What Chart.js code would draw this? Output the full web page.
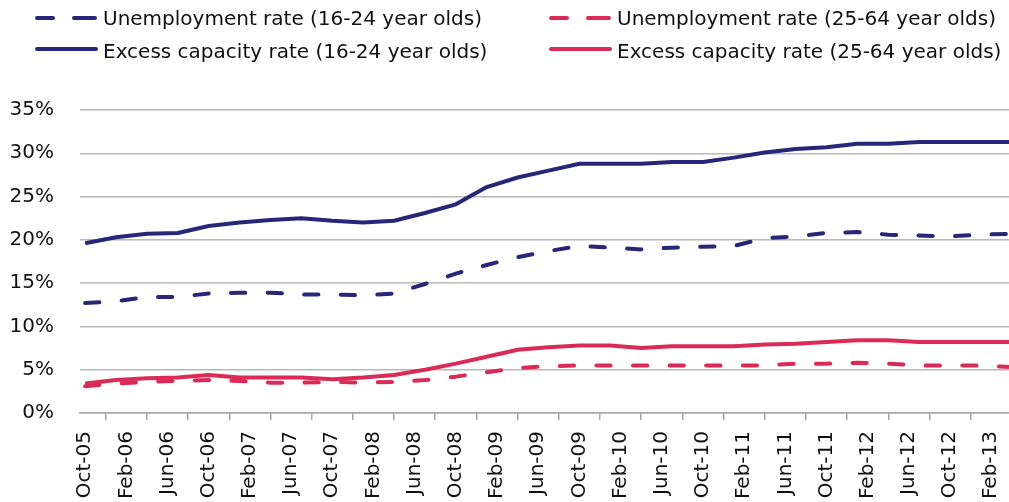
<!DOCTYPE html>
<html>
<head>
<meta charset="utf-8">
<script src="https://cdn.jsdelivr.net/npm/chart.js@4.4.1/dist/chart.umd.min.js"></script>
<style>
html, body { margin: 0; padding: 0; overflow: hidden; background: #fff; }
canvas { display: block; }
</style>
</head>
<body>
<canvas id="c" width="1038" height="502"></canvas>
<script>
// ---- data ----
const monthNames = ['Jan','Feb','Mar','Apr','May','Jun','Jul','Aug','Sep','Oct','Nov','Dec'];
const axisStartYear = 2005;
const axisStartMonth = 9;   // October
const axisMonthCount = 91;  // Oct-05 .. Apr-13

const quarters = ['Oct-05','Jan-06','Apr-06','Jul-06','Oct-06','Jan-07','Apr-07','Jul-07','Oct-07','Jan-08','Apr-08','Jul-08','Oct-08','Jan-09','Apr-09','Jul-09','Oct-09','Jan-10','Apr-10','Jul-10','Oct-10','Jan-11','Apr-11','Jul-11','Oct-11','Jan-12','Apr-12','Jul-12','Oct-12','Jan-13','Apr-13'];

const unemp1624  = [12.7,12.9,13.4,13.4,13.8,13.9,13.9,13.7,13.7,13.6,13.8,14.9,16.1,17.1,18.0,18.7,19.3,19.1,18.9,19.1,19.2,19.3,20.2,20.4,20.8,20.9,20.6,20.5,20.4,20.6,20.7];
const unemp2564  = [3.1,3.4,3.6,3.7,3.8,3.7,3.5,3.5,3.6,3.5,3.6,3.8,4.2,4.7,5.2,5.4,5.5,5.5,5.5,5.5,5.5,5.5,5.5,5.7,5.7,5.8,5.7,5.5,5.5,5.5,5.3];
const excess1624 = [19.6,20.3,20.7,20.8,21.6,22.0,22.3,22.5,22.2,22.0,22.2,23.1,24.1,26.1,27.2,28.0,28.8,28.8,28.8,29.0,29.0,29.5,30.1,30.5,30.7,31.1,31.1,31.3,31.3,31.3,31.3];
const excess2564 = [3.4,3.8,4.0,4.1,4.4,4.1,4.1,4.1,3.9,4.1,4.4,5.0,5.7,6.5,7.3,7.6,7.8,7.8,7.5,7.7,7.7,7.7,7.9,8.0,8.2,8.4,8.4,8.2,8.2,8.2,8.2];

const seriesNames = [
  'Unemployment rate (16-24 year olds)',
  'Unemployment rate (25-64 year olds)',
  'Excess capacity rate (16-24 year olds)',
  'Excess capacity rate (25-64 year olds)'
];
const yMin = 0, yMax = 35, yStep = 5;

// ---- build ----
const axisLabels = [];
for (let i = 0; i < axisMonthCount; i++) {
  const m = (axisStartMonth + i) % 12;
  const y = axisStartYear + Math.floor((axisStartMonth + i) / 12);
  axisLabels.push(monthNames[m] + '-' + String(y % 100).padStart(2, '0'));
}
const toPoints = vals => quarters.map((q, i) => ({ x: q, y: vals[i] }));

const NAVY = '#29267a';
const RED = '#d92b55';
const DASH = [14.3, 22.3];
const FONT = 'DejaVu Sans';

Chart.defaults.font.family = FONT;
Chart.defaults.color = '#111';

const legendPlugin = {
  id: 'gridLegend',
  afterDraw(chart) {
    const ctx = chart.ctx;
    const pos = [[35, 18, 103, 25], [549, 18, 617, 25], [35, 49, 103, 58], [549, 49, 617, 58]];
    chart.data.datasets.forEach((ds, i) => {
      const [sx, sy, tx, ty] = pos[i];
      ctx.save();
      ctx.strokeStyle = ds.borderColor;
      ctx.lineWidth = ds.borderWidth;
      ctx.lineCap = 'round';
      ctx.beginPath();
      if (ds.borderDash && ds.borderDash.length) {
        ctx.moveTo(sx + 2, sy); ctx.lineTo(sx + 18, sy);
        ctx.moveTo(sx + 39, sy); ctx.lineTo(sx + 60, sy);
      } else {
        ctx.moveTo(sx + 2, sy); ctx.lineTo(sx + 61, sy);
      }
      ctx.stroke();
      ctx.fillStyle = '#111';
      ctx.font = '20px "' + FONT + '"';
      ctx.textBaseline = 'alphabetic';
      ctx.fillText(ds.label, tx, ty);
      ctx.restore();
    });
  }
};

const lineDs = (label, vals, color, dashed) => ({
  label, data: toPoints(vals),
  borderColor: color, backgroundColor: color,
  borderWidth: 4, borderDash: dashed ? DASH : [],
  borderCapStyle: dashed ? 'round' : 'butt', borderJoinStyle: 'round',
  pointRadius: 0, pointHoverRadius: 0, tension: 0, fill: false
});

new Chart(document.getElementById('c'), {
  type: 'line',
  data: {
    labels: axisLabels,
    datasets: [
      lineDs(seriesNames[0], unemp1624, NAVY, true),
      lineDs(seriesNames[1], unemp2564, RED, true),
      lineDs(seriesNames[2], excess1624, NAVY, false),
      lineDs(seriesNames[3], excess2564, RED, false)
    ]
  },
  options: {
    responsive: false,
    animation: false,
    devicePixelRatio: 1,
    layout: { padding: { left: 10, right: 21, top: 110, bottom: 0 } },
    plugins: { legend: { display: false }, tooltip: { enabled: false } },
    scales: {
      x: {
        type: 'category',
        offset: true,
        afterFit: s => { s.height = 89; },
        grid: { display: true, drawOnChartArea: false, drawTicks: true, tickLength: 7, color: '#a6a6a6', lineWidth: 1.5, offset: true },
        border: { display: true, color: '#a6a6a6', width: 1.5 },
        ticks: {
          autoSkip: false, minRotation: 90, maxRotation: 90, padding: 11,
          font: { size: 20 }, color: '#111',
          callback: function(val, idx) { return idx % 4 === 0 ? this.getLabelForValue(val) : null; }
        }
      },
      y: {
        min: yMin, max: yMax,
        afterFit: s => { s.width = 70; },
        grid: { color: '#b8b8b8', lineWidth: 1.5, drawTicks: true, tickLength: 26, tickColor: 'rgba(0,0,0,0)' },
        border: { display: false },
        ticks: { stepSize: yStep, padding: 0, font: { size: 20 }, color: '#111', callback: v => v + '%' }
      }
    }
  },
  plugins: [legendPlugin]
});
</script>
</body>
</html>
